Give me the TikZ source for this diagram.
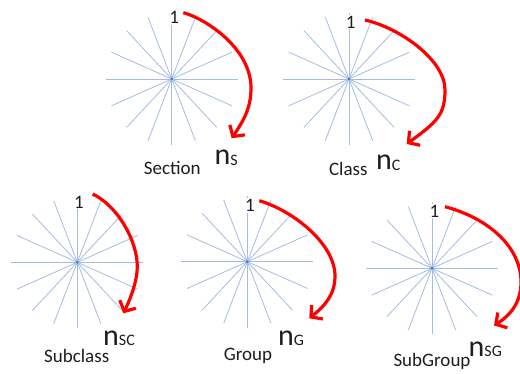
\documentclass[tikz,border=0pt]{standalone}
\usepackage{fontspec}
\setmainfont{Carlito}
\usetikzlibrary{arrows.meta}
\definecolor{raycol}{RGB}{165,188,226}
\definecolor{hubcol}{RGB}{68,114,196}
\definecolor{txtcol}{RGB}{30,30,30}
\definecolor{arrred}{RGB}{255,0,0}
\newcommand\nsubtxt[1]{\raisebox{-1pt}{\fontsize{16}{18}\selectfont #1}}
\tikzset{
  ray/.style={draw=raycol, line width=0.8pt},
  lbl/.style={inner sep=0pt, text=txtcol, font=\fontsize{19}{22}\selectfont},
  onelbl/.style={inner sep=1pt, fill=white, text=txtcol, font=\fontsize{19}{22}\selectfont},
  nlbl/.style={inner sep=0pt, text=txtcol, font=\fontsize{30}{34}\selectfont},
  redarrow/.style={draw=arrred, line width=3.2pt, -{Straight Barb[length=8pt,width=18pt]}},
}
\newcommand\starburst[1]{%
  \foreach \a in {0,24,47,69,90,111,133,156,180,204,227,249,270,291,313,336}
    \draw[ray] (#1) -- ++(\a:66);
  \fill[hubcol] (#1) circle (1.4);
}
\begin{document}
\begin{tikzpicture}[x=1pt,y=1pt]
\useasboundingbox (0,0) rectangle (520,-374);
\fill[white] (0,0) rectangle (520,-374);
% star centres
\coordinate (c1) at (171.7,-79);
\coordinate (c2) at (349,-79);
\coordinate (c3) at (77.3,-262.3);
\coordinate (c4) at (247.3,-261.7);
\coordinate (c5) at (432,-268.3);
\starburst{c1}
\starburst{c2}
\starburst{c3}
\starburst{c4}
\starburst{c5}
% "1" labels
\node[onelbl, anchor=base] (one1) at (174.2,-24) {1};
\node[onelbl, anchor=base] (one2) at (350.8,-28.3) {1};
\node[onelbl, anchor=base] (one3) at (79,-208.3) {1};
\node[onelbl, anchor=base] (one4) at (250,-211.7) {1};
\node[onelbl, anchor=base] (one5) at (434.5,-217.3) {1};
% names
\node[lbl, anchor=base] (sec) at (172.3,-175) {Section};
\node[lbl, anchor=base] (cls) at (348.3,-176) {Class};
\node[lbl, anchor=base] (scl) at (76.7,-362.7) {Subclass};
\node[lbl, anchor=base] (grp) at (248,-360) {Group};
\node[lbl, anchor=base] (sgr) at (432,-366.7) {SubGroup};
% n labels
\node[nlbl, anchor=base west] (n1) at (214.5,-165) {n\nsubtxt{S}};
\node[nlbl, anchor=base west] (n2) at (376,-170) {n\nsubtxt{C}};
\node[nlbl, anchor=base west] (n3) at (103,-345) {n\nsubtxt{SC}};
\node[nlbl, anchor=base west] (n4) at (278,-345) {n\nsubtxt{G}};
\node[nlbl, anchor=base west] (n5) at (468.5,-356) {n\nsubtxt{SG}};
% arrow ends
\coordinate (s1) at (183.3,-12.7); \coordinate (e1) at (231.7,-138.3);
\coordinate (s2) at (365,-20);     \coordinate (e2) at (406.7,-144);
\coordinate (s3) at (92.7,-194);   \coordinate (e3) at (123.3,-313.3);
\coordinate (s4) at (259.3,-200.7);\coordinate (e4) at (309.3,-318.3);
\coordinate (s5) at (445,-206.7);  \coordinate (e5) at (494,-325.5);
\draw[redarrow] (s1) .. controls (204,-18) and (251,-47.5) .. (251,-88)
  .. controls (251,-108) and (243.7,-120.3) .. (e1);
\draw[redarrow] (s2) .. controls (400,-28) and (445,-60) .. (445,-90)
  .. controls (445,-115) and (436.7,-122) .. (e2);
\draw[redarrow] (s3) .. controls (117.7,-206) and (137.3,-240.7) .. (137.3,-266.7)
  .. controls (137.3,-280.7) and (130.3,-299.3) .. (e3);
\draw[redarrow] (s4) .. controls (293.3,-210.7) and (335,-244) .. (335,-276)
  .. controls (335,-295) and (324.3,-306.3) .. (e4);
\draw[redarrow] (s5) .. controls (490,-218.7) and (521,-248) .. (521,-282)
  .. controls (521,-303) and (510,-315.5) .. (e5);
\end{tikzpicture}
\end{document}
